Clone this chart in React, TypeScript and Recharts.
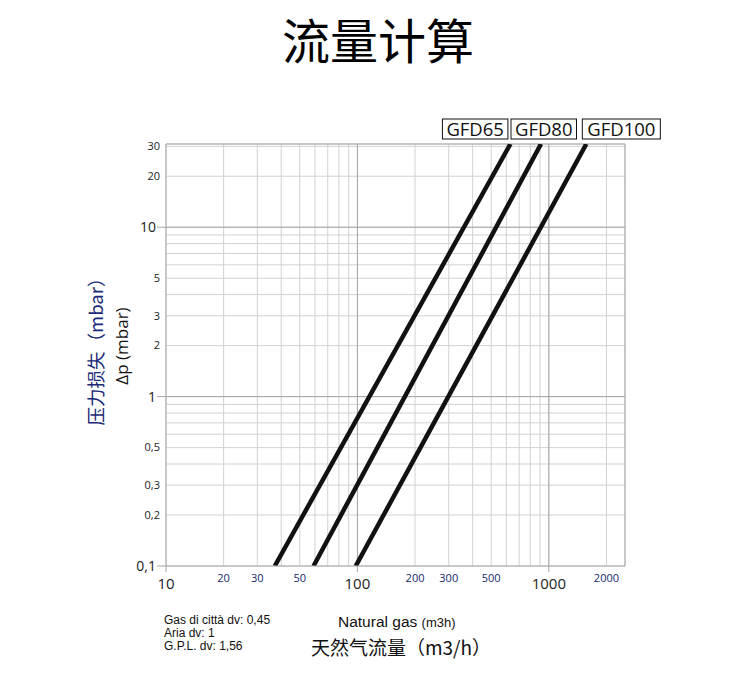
import React from "react";
import { LineChart, Line, XAxis, YAxis, CartesianGrid, ReferenceLine, LabelList } from "recharts";

// flow readings (m3/h) at the bottom (0,1 mbar) and top of the plot for each meter
const seriesNames = ["GFD65", "GFD80", "GFD100"];
const flowGFD65 = [37, 630];
const flowGFD80 = [59, 910];
const flowGFD100 = [98, 1570];
const pressureEnds = [0.1, 31];

const xDomain = [10, 2500];
const yDomain = [0.1, 31];
const xGridTicks = [10, 20, 30, 40, 50, 60, 70, 80, 90, 100, 200, 300, 400, 500, 600, 700, 800, 900, 1000, 2000];
const yGridTicks = [0.1, 0.2, 0.3, 0.4, 0.5, 0.6, 0.7, 0.8, 0.9, 1, 2, 3, 4, 5, 6, 7, 8, 9, 10, 20, 30];
const xLabelled = [10, 20, 30, 50, 100, 200, 300, 500, 1000, 2000];
const yLabelled = [0.1, 0.2, 0.3, 0.5, 1, 2, 3, 5, 10, 20, 30];
const xMajor = [10, 100, 1000];
const yMajor = [0.1, 1, 10];

const notes = ["Gas di città dv: 0,45", "Aria dv: 1", "G.P.L. dv: 1,56"];

const tickFont = "'Open Sans', 'DejaVu Sans', sans-serif";
const cjkFont = "'Noto Sans CJK SC', 'Noto Sans', sans-serif";
const arialFont = "'Liberation Sans', Arial, sans-serif";
const gridMinor = "#d2d2d2";
const gridMajor = "#a6a6a6";
const tagOffsets = [-68, -30, -4];

const toPoints = (flows: number[]) => flows.map((f, i) => ({ flow: f, dp: pressureEnds[i] }));
const series = [toPoints(flowGFD65), toPoints(flowGFD80), toPoints(flowGFD100)];

const fmt = (v: number) => String(v).replace(".", ",");

function XTick(props: any) {
  const { x, y, payload } = props;
  const v = payload.value;
  if (!xLabelled.includes(v)) return null;
  const major = xMajor.includes(v);
  return (
    <g>
      {major && <line x1={x} x2={x} y1={y} y2={y + 6} stroke={gridMajor} />}
      <text
        x={x}
        y={major ? y + 23 : y + 16}
        textAnchor="middle"
        fontSize={major ? 15 : 11}
        fontFamily={tickFont}
        fill={major ? "#222" : "#16276a"}
      >
        {fmt(v)}
      </text>
    </g>
  );
}

function YTick(props: any) {
  const { x, y, payload } = props;
  const v = payload.value;
  if (!yLabelled.includes(v)) return null;
  const major = yMajor.includes(v);
  return (
    <g>
      {major && <line x1={x - 9} x2={x} y1={y} y2={y} stroke={gridMajor} />}
      <text
        x={major ? x - 10 : x - 6}
        y={y}
        dy="0.35em"
        textAnchor="end"
        fontSize={major ? 14 : 11}
        fontFamily={tickFont}
        fill="#222"
      >
        {fmt(v)}
      </text>
    </g>
  );
}

function makeTag(idx: number) {
  return (props: any) => {
    const { x, y, index } = props;
    if (index !== pressureEnds.length - 1) return null;
    const name = seriesNames[idx];
    const w = name.length * 12.5 + 3;
    const left = x + tagOffsets[idx];
    return (
      <g>
        <rect x={left} y={y - 25} width={w} height={20} fill="#fff" stroke="#111" strokeWidth={1} />
        <text
          x={left + w / 2}
          y={y - 8}
          textAnchor="middle"
          fontSize={18.5}
          fontFamily={tickFont}
          fill="#111"
        >
          {name}
        </text>
      </g>
    );
  };
}

export default function App() {
  return (
    <div style={{ position: "absolute", left: 0, top: 0, width: 750, height: 680, background: "#fff" }}>
      <LineChart width={750} height={680} margin={{ top: 144, right: 125, bottom: 74, left: 106 }}>
        <CartesianGrid stroke={gridMinor} strokeWidth={1} />
        <XAxis
          type="number"
          dataKey="flow"
          scale="log"
          domain={xDomain}
          ticks={xGridTicks}
          allowDataOverflow
          height={40}
          tickSize={0}
          tickMargin={0}
          axisLine={{ stroke: gridMajor }}
          tickLine={false}
          tick={<XTick />}
          interval={0}
        />
        <YAxis
          type="number"
          dataKey="dp"
          scale="log"
          domain={yDomain}
          ticks={yGridTicks}
          allowDataOverflow
          width={60}
          tickSize={0}
          tickMargin={0}
          axisLine={{ stroke: gridMajor }}
          tickLine={false}
          tick={<YTick />}
          interval={0}
        />
        {[100, 1000, 2500].map((v) => (
          <ReferenceLine key={"x" + v} x={v} stroke={gridMajor} strokeWidth={1} />
        ))}
        {[1, 10, 31].map((v) => (
          <ReferenceLine key={"y" + v} y={v} stroke={gridMajor} strokeWidth={1} />
        ))}
        {series.map((data, i) => (
          <Line
            key={seriesNames[i]}
            data={data}
            dataKey="dp"
            type="linear"
            stroke="#111"
            strokeWidth={4.5}
            dot={false}
            isAnimationActive={false}
          >
            <LabelList dataKey="dp" content={makeTag(i)} />
          </Line>
        ))}
      </LineChart>

      <svg width={750} height={680} style={{ position: "absolute", left: 0, top: 0, pointerEvents: "none" }}>
        <text x={378} y={59} textAnchor="middle" fontSize={48} fontFamily={cjkFont} fill="#000">
          流量计算
        </text>
        <text
          x={97}
          y={347}
          transform="rotate(-90, 97, 347)"
          textAnchor="middle"
          dy="0.35em"
          fontSize={18.5}
          fontFamily={cjkFont}
          fill="#1b2a78"
        >
          压力损失（mbar）
        </text>
        <text
          x={122}
          y={346}
          transform="rotate(-90, 122, 346)"
          textAnchor="middle"
          dy="0.35em"
          fontSize={17}
          fontFamily={tickFont}
          fill="#111"
        >
          Δp (mbar)
        </text>
        {notes.map((n, i) => (
          <text key={n} x={164} y={624 + i * 13} fontSize={12} fontFamily={arialFont} fill="#111">
            {n}
          </text>
        ))}
        <text x={338} y={627} fontSize={15.5} fontFamily={arialFont} fill="#111">
          Natural gas <tspan fontSize={13}>(m3h)</tspan>
        </text>
        <text x={401} y={655} textAnchor="middle" fontSize={19} fontFamily={cjkFont} fill="#111">
          天然气流量（m3/h）
        </text>
      </svg>
    </div>
  );
}
